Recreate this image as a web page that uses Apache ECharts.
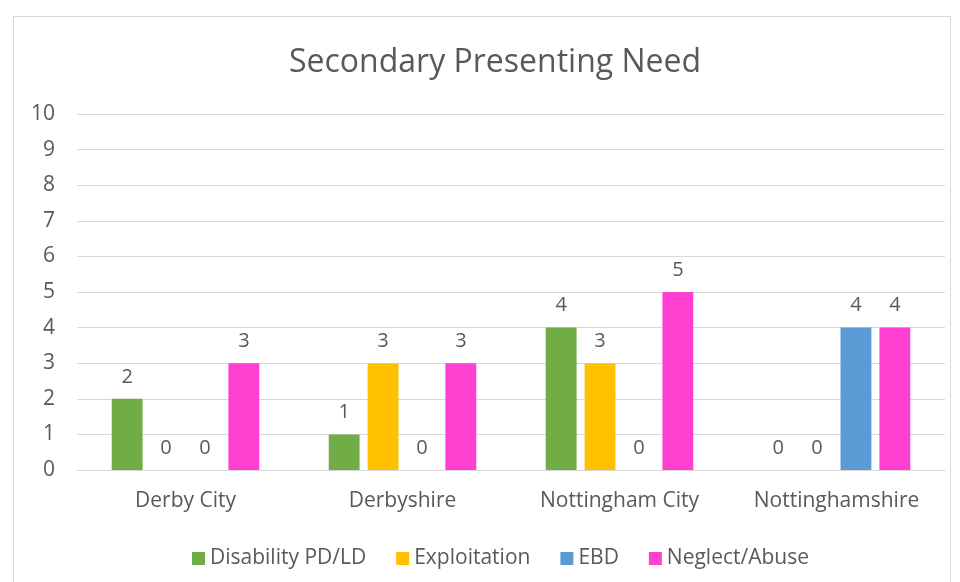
<!DOCTYPE html>
<html>
<head>
<meta charset="utf-8">
<script src="https://cdn.jsdelivr.net/npm/echarts@6/dist/echarts.min.js"></script>
<style>
  html, body { margin: 0; padding: 0; background: #ffffff; }
  #frame { position: absolute; left: 13px; top: 16px; width: 938px; height: 580px; border: 1px solid #d9d9d9; box-sizing: border-box; }
  #chart { position: absolute; left: 0; top: 0; width: 960px; height: 582px; }
</style>
</head>
<body>
<div id="frame"></div>
<div id="chart"></div>
<script>
// Regions and counts per secondary presenting need
const categories = ['Derby City', 'Derbyshire', 'Nottingham City', 'Nottinghamshire'];
const disability = [2, 1, 4, 0];
const exploitation = [0, 3, 3, 0];
const ebd = [0, 0, 0, 4];
const neglect = [3, 3, 5, 4];
const yTicks = [0, 1, 2, 3, 4, 5, 6, 7, 8, 9, 10];

const FONT = '"Open Sans", "Noto Sans", sans-serif';
const TEXT = '#595959';

function barSeries(name, data, color) {
  return {
    name: name,
    type: 'bar',
    data: data,
    barGap: '26%',
    barCategoryGap: '32%',
    itemStyle: { color: color },
    label: {
      show: true,
      position: 'top',
      distance: 12,
      color: TEXT,
      fontFamily: FONT,
      fontSize: 20
    }
  };
}

const chart = echarts.init(document.getElementById('chart'));
chart.setOption({
  animation: false,
  title: {
    text: 'Secondary Presenting Need',
    left: 284,
    top: 42,
    textStyle: { color: TEXT, fontFamily: FONT, fontSize: 32, fontWeight: 'normal' }
  },
  legend: {
    top: 543,
    left: 187,
    itemWidth: 13,
    itemHeight: 13,
    itemGap: 30,
    icon: 'rect',
    textStyle: { color: TEXT, fontFamily: FONT, fontSize: 21 },
    data: ['Disability PD/LD', 'Exploitation', 'EBD', 'Neglect/Abuse']
  },
  grid: { left: 77, right: 15, top: 114, bottom: 112, containLabel: false },
  xAxis: {
    type: 'category',
    data: categories,
    axisLine: { lineStyle: { color: '#d9d9d9', width: 1 } },
    axisTick: { show: false },
    axisLabel: { color: TEXT, fontFamily: FONT, fontSize: 21, margin: 21 }
  },
  yAxis: {
    type: 'value',
    min: yTicks[0],
    max: yTicks[yTicks.length - 1],
    interval: 1,
    axisLine: { show: false },
    axisTick: { show: false },
    splitLine: { lineStyle: { color: '#d9d9d9', width: 1 } },
    axisLabel: { color: TEXT, fontFamily: FONT, fontSize: 21, margin: 22 }
  },
  series: [
    barSeries('Disability PD/LD', disability, '#70ad47'),
    barSeries('Exploitation', exploitation, '#ffc000'),
    barSeries('EBD', ebd, '#5b9bd5'),
    barSeries('Neglect/Abuse', neglect, '#ff3fcf')
  ]
});
</script>
</body>
</html>
